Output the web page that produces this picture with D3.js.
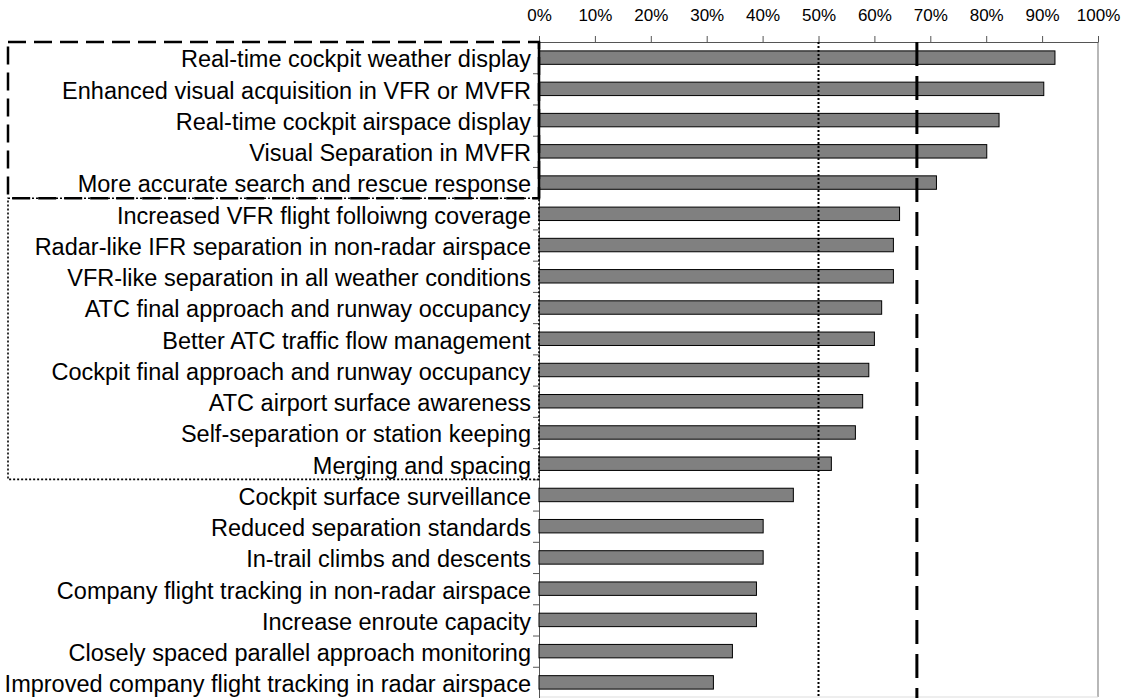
<!DOCTYPE html>
<html>
<head>
<meta charset="utf-8">
<script src="https://cdn.jsdelivr.net/npm/d3@7"></script>
<style>
  body { margin: 0; background: #fff; }
  svg { display: block; font-family: "Liberation Sans", Arial, sans-serif; }
</style>
</head>
<body>
<svg id="chart"></svg>
<script>
// categories, top to bottom
var categories = [
    "Real-time cockpit weather display",
    "Enhanced visual acquisition in VFR or MVFR",
    "Real-time cockpit airspace display",
    "Visual Separation in MVFR",
    "More accurate search and rescue response",
    "Increased VFR flight folloiwng coverage",
    "Radar-like IFR separation in non-radar airspace",
    "VFR-like separation in all weather conditions",
    "ATC final approach and runway occupancy",
    "Better ATC traffic flow management",
    "Cockpit final approach and runway occupancy",
    "ATC airport surface awareness",
    "Self-separation or station keeping",
    "Merging and spacing",
    "Cockpit surface surveillance",
    "Reduced separation standards",
    "In-trail climbs and descents",
    "Company flight tracking in non-radar airspace",
    "Increase enroute capacity",
    "Closely spaced parallel approach monitoring",
    "Improved company flight tracking in radar airspace"
];
// share of respondents
var values = [0.923, 0.903, 0.823, 0.801, 0.711, 0.645, 0.634, 0.634, 0.613, 0.600,
              0.590, 0.579, 0.566, 0.523, 0.455, 0.401, 0.401, 0.389, 0.389, 0.346, 0.312];
var xTicks = [0, 0.1, 0.2, 0.3, 0.4, 0.5, 0.6, 0.7, 0.8, 0.9, 1.0];
// reference lines
var dottedRef = 0.5;
var dashedRef = 0.676;
// grouped boxes (index ranges of categories)
var dashedGroup = [0, 5];
var dottedGroup = [5, 14];

var W = 1130,
    H = 698;
var pLeft = 539, pRight = 1098, pTop = 42, pBottom = 698;

var svg = d3.select("#chart").attr("width", W).attr("height", H);

var x = d3.scaleLinear().domain([0, 1]).range([pLeft, pRight]);
var y = d3.scaleBand().domain(categories).range([pTop, pBottom])
    .paddingInner(0.57).paddingOuter(0.285);
// boundaries between categories
var yb = d3.scaleLinear().domain([0, categories.length]).range([pTop, pBottom]);

// plot border (right + bottom)
svg.append("line").attr("x1", pRight).attr("x2", pRight).attr("y1", pTop).attr("y2", 697)
    .attr("stroke", "#888").attr("stroke-width", 1.2);
svg.append("line").attr("x1", pLeft).attr("x2", pRight).attr("y1", 697).attr("y2", 697)
    .attr("stroke", "#ddd").attr("stroke-width", 1);

// x axis on top
var xAxis = svg.append("g").attr("transform", "translate(0," + pTop + ")")
    .call(d3.axisTop(x).tickValues(xTicks).tickFormat(d3.format(".0%")).tickSize(6).tickSizeOuter(0));
xAxis.select(".domain").attr("stroke", "#555");
xAxis.selectAll(".tick line").attr("stroke", "#555");
xAxis.selectAll(".tick text").attr("font-size", 17).attr("fill", "#000")
    .attr("font-family", "Liberation Sans, Arial, sans-serif").attr("y", -21).attr("dy", "0");

// y axis: ticks at category boundaries
var yAxis = svg.append("g").attr("transform", "translate(" + pLeft + ",0)")
    .call(d3.axisLeft(yb).tickValues(d3.range(categories.length + 1)).tickFormat("").tickSize(6).tickSizeOuter(0));
yAxis.select(".domain").attr("stroke", "#555");
yAxis.selectAll(".tick line").attr("stroke", "#555");

// category labels
svg.append("g").selectAll("text").data(categories).enter().append("text")
    .attr("x", pLeft - 8)
    .attr("y", function (d) { return y(d) + y.bandwidth() / 2; })
    .attr("dy", "0.42em")
    .attr("text-anchor", "end")
    .attr("font-size", 23.5)
    .attr("fill", "#000")
    .text(function (d) { return d; });

// bars
svg.append("g").selectAll("rect").data(values).enter().append("rect")
    .attr("x", x(0))
    .attr("y", function (d, i) { return y(categories[i]); })
    .attr("width", function (d) { return x(d) - x(0); })
    .attr("height", y.bandwidth())
    .attr("fill", "#808080")
    .attr("stroke", "#000")
    .attr("stroke-width", 1);

// reference lines
svg.append("line")
    .attr("x1", x(dottedRef)).attr("x2", x(dottedRef))
    .attr("y1", pTop).attr("y2", pBottom)
    .attr("stroke", "#000").attr("stroke-width", 2).attr("stroke-dasharray", "2,2");
svg.append("line")
    .attr("x1", x(dashedRef)).attr("x2", x(dashedRef))
    .attr("y1", pTop).attr("y2", pBottom)
    .attr("stroke", "#000").attr("stroke-width", 3).attr("stroke-dasharray", "24,10");

// group boxes around labels
var boxLeft = 8;
svg.append("rect")
    .attr("x", boxLeft).attr("y", yb(dottedGroup[0]))
    .attr("width", pLeft - boxLeft).attr("height", yb(dottedGroup[1]) - yb(dottedGroup[0]))
    .attr("fill", "none").attr("stroke", "#000").attr("stroke-width", 1.6)
    .attr("stroke-dasharray", "2,2");
svg.append("rect")
    .attr("x", boxLeft).attr("y", yb(dashedGroup[0]))
    .attr("width", pLeft - boxLeft).attr("height", yb(dashedGroup[1]) - yb(dashedGroup[0]))
    .attr("fill", "none").attr("stroke", "#000").attr("stroke-width", 2.5)
    .attr("stroke-dasharray", "18,8");
// solid right edge of dashed box sits on the axis
svg.append("line")
    .attr("x1", pLeft).attr("x2", pLeft)
    .attr("y1", yb(dashedGroup[0])).attr("y2", yb(dashedGroup[1]))
    .attr("stroke", "#000").attr("stroke-width", 2.5);
</script>
</body>
</html>
